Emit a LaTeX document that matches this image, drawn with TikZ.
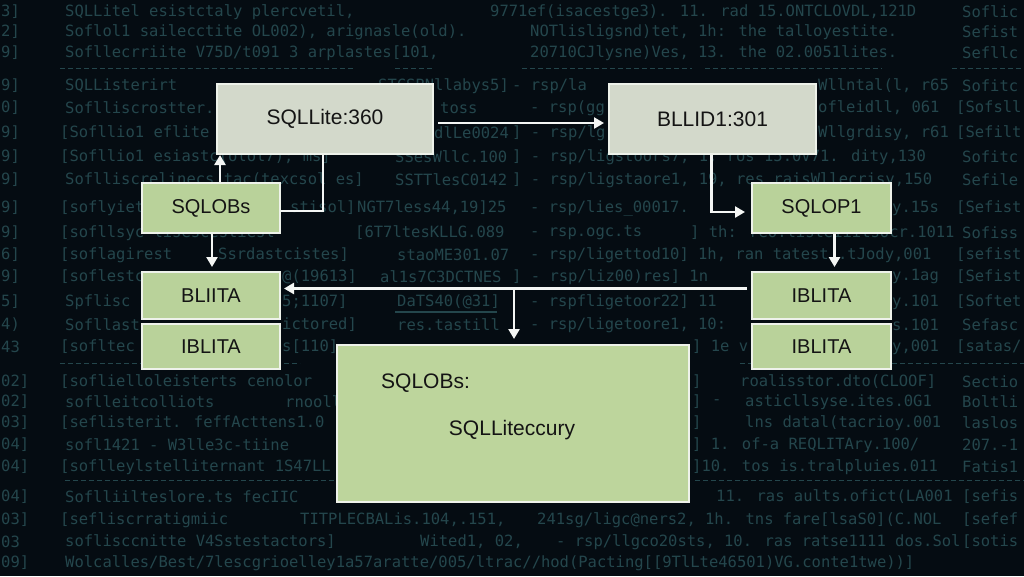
\documentclass[tikz,border=0pt]{standalone}
\usepackage{fontspec}
\setmainfont{Liberation Sans}
\newfontfamily\bgmono{DejaVu Sans Mono}
\usetikzlibrary{arrows.meta,calc}
\definecolor{bgcol}{HTML}{050C12}
\definecolor{bgtxt}{HTML}{24464C}
\definecolor{greyfill}{HTML}{D3D9CB}
\definecolor{greenfill}{HTML}{B9D29A}
\definecolor{bigfill}{HTML}{BDD59C}
\definecolor{boxline}{HTML}{EEF2EA}
\definecolor{linecol}{HTML}{F4F6F4}
\tikzset{
  bgtext/.style={anchor=west, inner sep=0pt, text=bgtxt, font=\bgmono\fontsize{15.5}{18}\selectfont},
  bgdash/.style={draw=bgtxt, line width=1pt, dash pattern=on 5pt off 3pt},
  greybox/.style={draw=boxline, line width=2pt, fill=greyfill, text=black!92, inner sep=0pt, font=\fontsize{21}{25}\selectfont},
  greenbox/.style={draw=boxline, line width=2pt, fill=greenfill, text=black!92, inner sep=0pt, font=\fontsize{20}{24}\selectfont},
  bigbox/.style={draw=boxline, line width=2pt, fill=bigfill, inner sep=0pt},
  bigtext/.style={text=black!92, inner sep=0pt, font=\fontsize{21}{25}\selectfont},
  conn/.style={draw=linecol, line width=2.5pt},
  arr/.style={conn, -{Triangle[length=10pt,width=11pt]}}
}
\begin{document}
\begin{tikzpicture}[x=1pt,y=-1pt]
\fill[bgcol] (0,0) rectangle (1024,576);
\useasboundingbox (0,0) rectangle (1024,576);

% background log text
\foreach \px/\py/\t [count=\n] in {
 1/12/{3]}, 65/12/{SQLLitel esistctaly plercvetil,}, 490/12/{9771ef(isacestge3). 11. rad 15.ONTCLOVDL,121D}, 962/12/{Soflic},
 1/32/{2]}, 65/32/{Soflol1 sailecctite OL002), arignasle(old).}, 530/32/{NOTlisligsnd)tet, 1h: the talloyestite.}, 962/32/{Sefist},
 1/53/{9]}, 65/53/{Sofllecrriite  V75D/t091 3 arplastes[101,}, 530/53/{20710CJlysne)Ves, 13. the 02.0051lites.}, 962/53/{Sefllc},
 1/86/{9]}, 65/86/{SQLListerirt}, 378/86/{STCSBNllabys5]}, 512/86/{- rsp/la}, 818/86/{Wllntal(l, r65}, 962/86/{Sofitc},
 1/108/{0]}, 65/108/{Soflliscrostter.}, 440/108/{toss}, 530/108/{- rsp(gg}, 818/108/{ofleidll, 061}, 956/108/{[Sofsll},
 1/133/{9]}, 60/133/{[Sofllio1 eflite}, 434/133/{dlLe0024}, 512/133/{] - rsp/lg}, 818/133/{Wllgrdisy, r61}, 956/133/{[Sefilt},
 1/157/{9]}, 60/157/{[Sofllio1 esiastc(olol7); ms]}, 395/157/{SSesWllc.100}, 512/157/{] - rsp/ligstoors7, 1, ros 15.0V71. dity,130}, 962/157/{Sofitc},
 1/180/{9]}, 65/180/{Soflliscrelinecs tac(texcsol es]}, 395/180/{SSTTlesC0142}, 512/180/{] - rsp/ligstaore1, 19, res raisWllecrisy,150}, 962/180/{Sefile},
 1/208/{9]}, 60/208/{[soflyiet}, 290/208/{stisol]}, 357/208/{NGT7less44,19]25}, 530/208/{- rsp/lies\_00017.}, 892/208/{y.15s}, 956/208/{[Sefist},
 1/233/{9]}, 60/233/{[sofllsyc   lisescestiesl}, 355/233/{[6T7ltesKLLG.089}, 530/233/{- rsp.ogc.ts}, 690/233/{] th: reo.listeiiitsocr.1011}, 962/233/{Sofiss},
 1/255/{6]}, 60/255/{[soflagirest}, 218/255/{Ssrdastcistes]}, 397/255/{staoME301.07}, 530/255/{- rsp/ligettod10] 1h, ran tatest .tJody,001}, 956/255/{[sefist},
 1/277/{9]}, 60/277/{[soflestc}, 282/277/{@(19613]}, 380/277/{al1s7C3DCTNES}, 512/277/{] - rsp/liz00)res]  1n}, 892/277/{y.1ag}, 956/277/{[Sefist},
 1/302/{5]}, 65/302/{Spflisc}, 282/302/{5;1107]}, 397/302/{DaTS40(@31]}, 530/302/{- rspfligetoor22] 11}, 892/302/{y.101}, 956/302/{[Softet},
 1/325/{4)}, 65/325/{Sofllast}, 282/325/{ictored]}, 397/325/{res.tastill}, 530/325/{- rsp/ligetoore1, 10:}, 892/325/{s.101}, 962/325/{Sefasc},
 1/347/{43}, 60/347/{[sofltec}, 282/347/{s[110]}, 692/347/{] 1e v}, 892/347/{y,001}, 956/347/{[satas/},
 1/382/{02]}, 60/382/{[soflielloleisterts   cenolor}, 692/382/{]}, 740/382/{roalisstor.dto(CLOOF]}, 962/382/{Sectio},
 1/402/{02]}, 65/402/{soflleitcolliots}, 285/402/{rnooll}, 692/402/{]}, 712/402/{-}, 745/402/{asticllsyse.ites.0G1}, 962/402/{Boltli},
 1/423/{03]}, 60/423/{[seflisterit.   feffActtens1.0}, 692/423/{]}, 745/423/{lns datal(tacrioy.001}, 962/423/{laslos},
 1/445/{04]}, 65/445/{sofl1421 - W3lle3c-tiine}, 692/445/{] 1.  of-a  REQLITAry.100/}, 962/445/{207.-1},
 1/467/{04]}, 60/467/{[soflleylstelliternant   1S47LL}, 692/467/{]10. tos is.tralpluies.011}, 962/467/{Fatis1},
 1/497/{04]}, 65/497/{Soflliilteslore.ts     fecIIC}, 716/497/{11. ras aults.ofict(LA001}, 962/497/{[sefis},
 1/520/{03]}, 60/520/{[sefliscrratigmiic}, 300/520/{TITPLECBALis.104,.151,}, 537/520/{241sg/ligc@ners2, 1h. tns fare[lsaS0](C.NOL}, 962/520/{[sefef},
 1/542/{03}, 65/542/{soflisccnitte  V4Sstestactors]}, 420/542/{Wited1, 02,}, 556/542/{- rsp/llgco20sts, 10. ras ratse1111 dos.Sol}, 962/542/{[sotis},
 1/563/{09]}, 65/563/{Wolcalles/Best/7lescgrioelley1a57aratte/005/ltrac//hod(Pacting[[9TlLte46501)VG.conte1twe))]}
}{\node[bgtext] (bg\n) at (\px,\py) {\t};}

% faint separator dashes
\draw[bgdash] (60,68) -- (355,68);
\draw[bgdash] (395,68) -- (433,68);
\draw[bgdash] (522,68) -- (692,68);
\draw[bgdash] (705,68) -- (882,68);
\draw[bgdash] (952,68) -- (1024,68);
\draw[bgdash] (60,363) -- (300,363);
\draw[bgdash] (740,363) -- (1024,363);
\draw[bgdash] (65,480) -- (335,480);
\draw[bgdash] (695,480) -- (1024,480);
\draw[draw=bgtxt, line width=1.5pt] (395,312) -- (497,312);

% boxes
\node[greybox, minimum width=216pt, minimum height=70pt] (sql360) at (325,119) {SQLLite:360};
\node[greybox, minimum width=207pt, minimum height=70pt] (bllid) at (712.5,119) {BLLID1:301};
\node[greenbox, minimum width=138pt, minimum height=50pt] (sqlobs) at (211,208) {SQLOBs};
\node[greenbox, minimum width=138pt, minimum height=47pt] (bliita) at (211,295.5) {BLIITA};
\node[greenbox, minimum width=138pt, minimum height=45pt] (iblL) at (211,346.5) {IBLITA};
\node[greenbox, minimum width=139pt, minimum height=50pt] (sqlop) at (821.5,208) {SQLOP1};
\node[greenbox, minimum width=139pt, minimum height=47pt] (iblR1) at (821.5,295.5) {IBLITA};
\node[greenbox, minimum width=139pt, minimum height=45pt] (iblR2) at (821.5,346.5) {IBLITA};
\node[bigbox, minimum width=352pt, minimum height=157pt] (big) at (513,423.5) {};
\node[bigtext, anchor=west] (bigA) at (381,383) {SQLOBs:};
\node[bigtext] (bigB) at (512,430) {SQLLiteccury};

% connectors
\draw[arr] ([xshift=9pt]sqlobs.north) -- ([xshift=9pt]sqlobs.north |- sql360.south);
\draw[conn] ([xshift=-2pt]sql360.south) |- ([yshift=-3pt]sqlobs.east);
\draw[arr, shorten <=4pt, shorten >=4pt] ([yshift=-4pt]sql360.east) -- ([yshift=-4pt]bllid.west);
\draw[arr, shorten >=6pt] ([xshift=-1pt]bllid.south) |- ([yshift=-4pt]sqlop.west);
\draw[arr, shorten >=4pt] ([xshift=13pt]sqlop.south) -- ([xshift=13pt]iblR1.north);
\draw[arr, shorten <=4pt, shorten >=3pt] ([yshift=7pt]iblR1.west) -- ([yshift=7pt]bliita.east);
\coordinate (br) at (514,288.5);
\draw[arr, shorten >=5pt] (br) -- (br |- big.north);
\draw[arr, shorten >=4pt] ([xshift=1pt]sqlobs.south) -- ([xshift=1pt]bliita.north);
\end{tikzpicture}
\end{document}
